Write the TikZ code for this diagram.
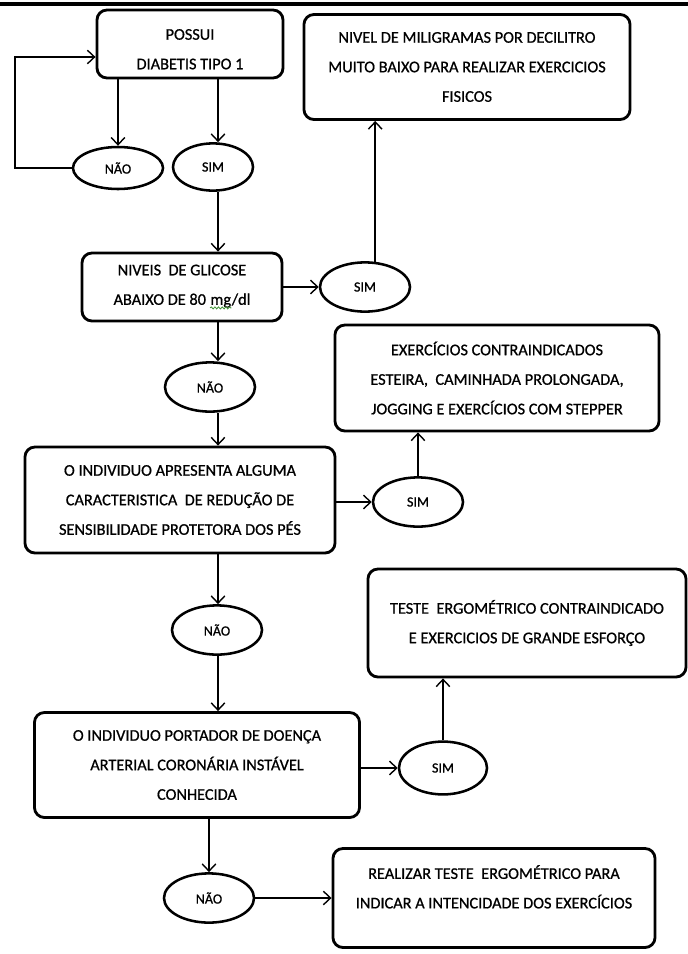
\documentclass[tikz,border=0pt]{standalone}
\usepackage{fontspec}
\setmainfont{Carlito}[FakeBold=0.8]
\usetikzlibrary{arrows.meta, shapes.geometric, decorations.pathmorphing}
\definecolor{wordGreen}{RGB}{70,150,60}

\tikzset{
  caixa/.style={rectangle, rounded corners=2.5mm, draw, line width=2pt,
                inner sep=0pt, align=center, font=\fontsize{11.6}{21}\selectfont},
  resposta/.style={ellipse, draw, line width=1.8pt, inner sep=0pt,
                   minimum width=2.25cm, minimum height=1.23cm,
                   font=\fontsize{10}{12}\selectfont},
  seta/.style={line width=1pt, -{Straight Barb[length=1.8mm, width=3.4mm]}}
}
% sublinhado ondulado verde (corretor)
\newcommand{\ondulado}[1]{\tikz[baseline=(w.base)]{\node[rectangle, inner sep=0pt, draw=none,
    minimum width=0pt, minimum height=0pt] (w) {#1};
  \draw[wordGreen, line width=0.6pt, sharp corners, decorate,
        decoration={snake, amplitude=0.7pt, segment length=2.6pt}]
    ([yshift=-2.2pt]w.base west) -- ([yshift=-2.2pt]w.base east);}}

\begin{document}
\begin{tikzpicture}[x=0.025cm, y=-0.025cm]
\useasboundingbox (0,0) rectangle (688,954);
\draw[line width=2.2pt] (0,4) -- (688,4);
\coordinate (spine) at (218,0);
\coordinate (volta) at (15,57);

% perguntas (coluna da esquerda)
\node[caixa, minimum width=4.65cm, minimum height=1.7cm] (possui) at (190,44)
  {\\[-6pt]POSSUI\\DIABETIS TIPO 1};
\node[caixa, minimum width=5cm, minimum height=1.7cm] (glicose) at (182,287)
  {NIVEIS\ \ DE GLICOSE\\ABAIXO DE 80 \ondulado{mg}/dl};
\node[caixa, minimum width=7.75cm, minimum height=2.65cm] (pes) at (180,500)
  {O INDIVIDUO APRESENTA ALGUMA\\CARACTERISTICA\ \ DE REDUÇÃO DE\\SENSIBILIDADE PROTETORA DOS PÉS};
\node[caixa, minimum width=8.125cm, minimum height=2.625cm] (doenca) at (197,765)
  {O INDIVIDUO PORTADOR DE DOENÇA\\ARTERIAL CORONÁRIA INSTÁVEL\\CONHECIDA};

% respostas
\node[resposta, minimum height=1.05cm] (nao1) at (118,168) {NÃO};
\node[resposta, minimum width=2cm, minimum height=1.18cm] (sim1) at (213,167) {SIM};
\node[resposta] (sim2) at (365,287) {SIM};
\node[resposta] (nao2) at (210,387) {NÃO};
\node[resposta] (sim3) at (418,502) {SIM};
\node[resposta] (nao3) at (217,630) {NÃO};
\node[resposta, minimum width=2.2cm, minimum height=1.32cm] (sim4) at (443,768) {SIM};
\node[resposta] (nao4) at (209,898) {NÃO};

% resultados (coluna da direita)
\node[caixa, minimum width=8.15cm, minimum height=2.625cm] (miligramas) at (467,67)
  {NIVEL DE MILIGRAMAS POR DECILITRO\\MUITO BAIXO PARA REALIZAR EXERCICIOS\\FISICOS};
\node[caixa, minimum width=8.1cm, minimum height=2.65cm] (esteira) at (497,378)
  {EXERCÍCIOS CONTRAINDICADOS\\ESTEIRA,\ \ CAMINHADA PROLONGADA,\\JOGGING E EXERCÍCIOS COM STEPPER};
\node[caixa, minimum width=7.95cm, minimum height=2.7cm] (ergometrico) at (527,623)
  {TESTE\ \ ERGOMÉTRICO CONTRAINDICADO\\E EXERCICIOS DE GRANDE ESFORÇO};
\node[caixa, minimum width=8.05cm, minimum height=2.475cm] (realizar) at (494,898)
  {REALIZAR TESTE\ \ ERGOMÉTRICO PARA\\INDICAR A INTENCIDADE DOS EXERCÍCIOS\\[-4mm]\strut};

% ligacoes
\draw[seta] (possui.south -| nao1.north) -- (nao1.north);
\draw[seta] (possui.south -| spine) -- (sim1.north -| spine);
\draw[seta] (nao1.west) -| (volta) -- (volta -| possui.west);
\draw[seta] (sim1.south -| spine) -- (glicose.north -| spine);
\draw[seta] (glicose.east) -- (sim2.west);
\draw[seta] (sim2.68) -- (sim2.68 |- miligramas.south);
\draw[seta] (glicose.south -| spine) -- (nao2.north -| spine);
\draw[seta] (nao2.south -| spine) -- (pes.north -| spine);
\draw[seta] (pes.east |- sim3) -- (sim3.west);
\draw[seta] (sim3.north) -- (sim3.north |- esteira.south);
\draw[seta] (pes.south -| spine) -- (nao3.north -| spine);
\draw[seta] (nao3.south -| spine) -- (doenca.north -| spine);
\draw[seta] (doenca.east |- sim4) -- (sim4.west);
\draw[seta] (sim4.north) -- (sim4.north |- ergometrico.south);
\draw[seta] (doenca.south -| nao4) -- (nao4.north);
\draw[seta] (nao4.east) -- (realizar.west |- nao4);
\end{tikzpicture}
\end{document}
